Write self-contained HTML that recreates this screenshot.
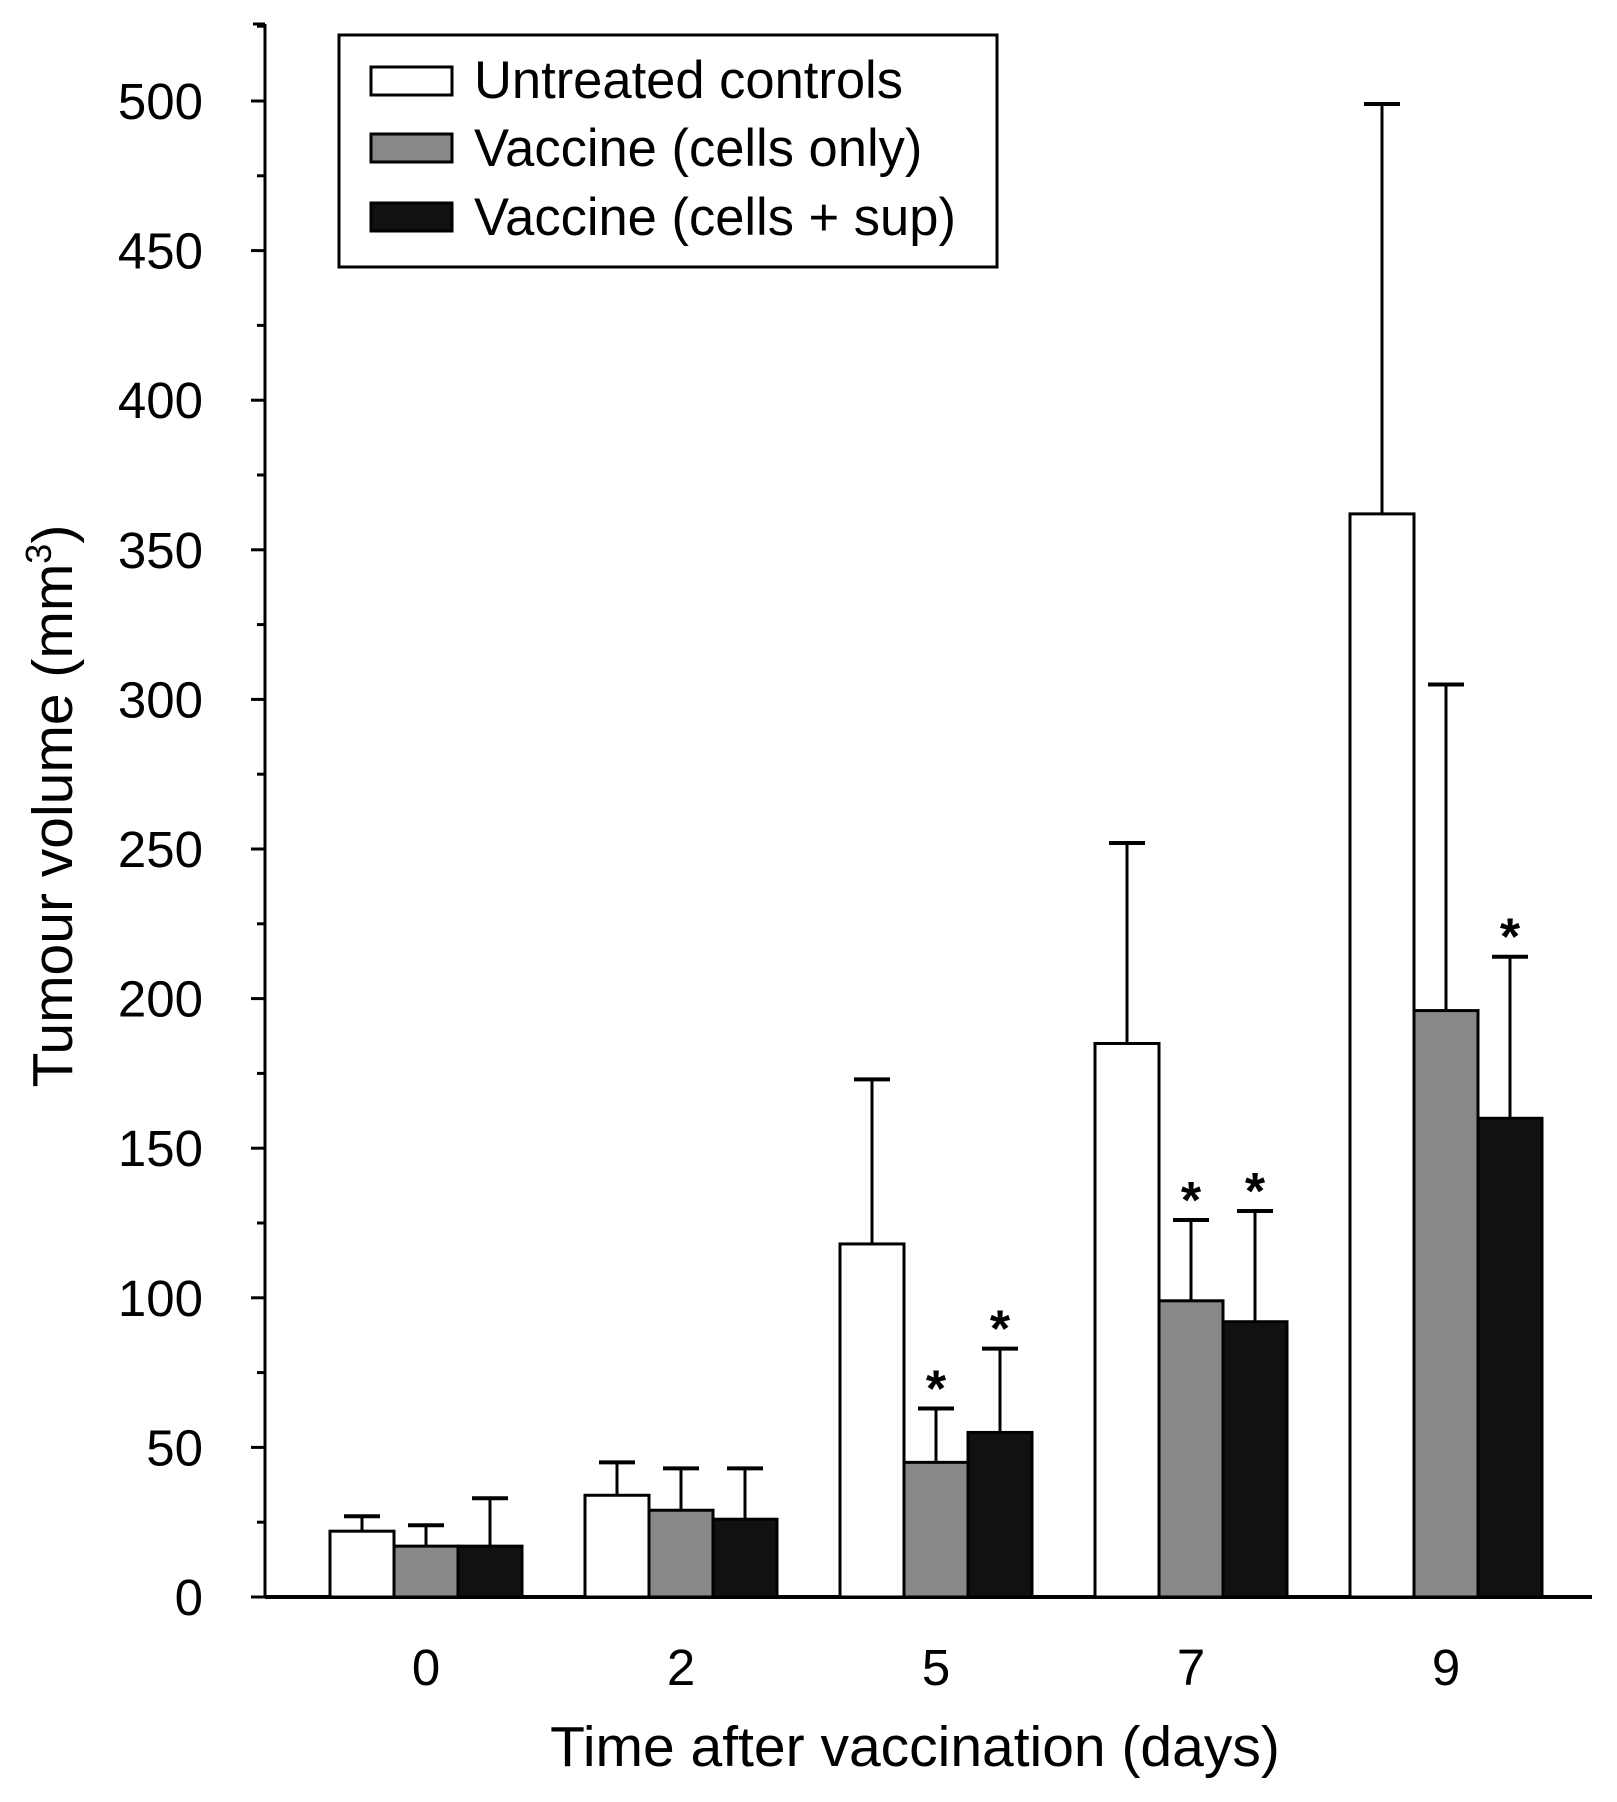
<!DOCTYPE html>
<html><head><meta charset="utf-8"><style>
body{margin:0;background:#fff}
svg{display:block;font-family:"Liberation Sans",Arial,sans-serif}
</style></head><body>
<svg id="chart" width="1617" height="1802" viewBox="0 0 1617 1802">
<g id="axes"></g><g id="bars"></g>
<g>
<rect x="339" y="35" width="658" height="232" fill="#fff" stroke="#000" stroke-width="3"/>
<rect x="371" y="67" width="81" height="28" fill="#fff" stroke="#000" stroke-width="3"/>
<rect x="371" y="134" width="81" height="28" fill="#888" stroke="#000" stroke-width="3"/>
<rect x="371" y="203" width="81" height="28" fill="#111" stroke="#000" stroke-width="3"/>
<text x="474" y="98" font-size="52.5">Untreated controls</text>
<text x="474" y="166" font-size="52.5">Vaccine (cells only)</text>
<text x="474" y="235" font-size="52.5">Vaccine (cells + sup)</text>
</g>
<text x="915" y="1766" font-size="57" text-anchor="middle">Time after vaccination (days)</text>
<text transform="translate(72,806) rotate(-90)" font-size="57" text-anchor="middle">Tumour volume (mm<tspan font-size="36" dy="-21">3</tspan><tspan dy="21">)</tspan></text>
</svg>
<script>
const categories = ["0","2","5","7","9"];
const untreated = [22,34,118,185,362];
const untreatedErr = [27,45,173,252,499];
const cellsOnly = [17,29,45,99,196];
const cellsOnlyErr = [24,43,63,126,305];
const cellsSup = [17,26,55,92,160];
const cellsSupErr = [33,43,83,129,214];
const stars = [[false,false,false],[false,false,false],[false,true,true],[false,true,true],[false,false,true]];
const yTicks = [0,50,100,150,200,250,300,350,400,450,500];

const NS="http://www.w3.org/2000/svg";
const x0=265, x1=1592, yZero=1597, yTop=24;
const y=v=>yZero-v*(1597-101)/500;
const cx=i=>426+i*255;
const bw=64;
function el(t,a,p){const e=document.createElementNS(NS,t);for(const k in a)e.setAttribute(k,a[k]);p.appendChild(e);return e;}
const ax=document.getElementById('axes'), bars=document.getElementById('bars');
let e=el('line',{x1:x0,y1:yTop,x2:x0,y2:yZero,stroke:'#000','stroke-width':3},ax);


e=el('line',{x1:x0-12,y1:yTop,x2:x0,y2:yTop,stroke:'#000','stroke-width':3},ax);


for(let v=25;v<=525;v+=50){
 e=el('line',{x1:x0-8,y1:y(v),x2:x0,y2:y(v),stroke:'#000','stroke-width':3},ax);
 
 
}
yTicks.forEach(v=>{
 e=el('line',{x1:x0-14,y1:y(v),x2:x0,y2:y(v),stroke:'#000','stroke-width':3},ax);
 
 
 e=el('text',{x:x0-62,y:y(v)+18,'font-size':51,'text-anchor':'end'},ax);
 e.textContent=v;
 
 
});
categories.forEach((c,i)=>{
 e=el('text',{x:cx(i),y:1685,'font-size':51,'text-anchor':'middle'},ax);
 e.textContent=c;
 
 
});
const series=[[untreated,untreatedErr,'#fff','untreated'],[cellsOnly,cellsOnlyErr,'#888','cells-only'],[cellsSup,cellsSupErr,'#111','cells-sup']];
categories.forEach((c,i)=>{
 series.forEach((s,j)=>{
  const bx=cx(i)+(j-1)*bw-bw/2, v=s[0][i], ev=s[1][i], mx=bx+bw/2;
  let r=el('line',{x1:mx,y1:y(v),x2:mx,y2:y(ev),stroke:'#000','stroke-width':3},bars);
  
  
  r=el('line',{x1:mx-18,y1:y(ev),x2:mx+18,y2:y(ev),stroke:'#000','stroke-width':4},bars);
  
  
  r=el('rect',{x:bx,y:y(v),width:bw,height:yZero-y(v),fill:s[2],stroke:'#000','stroke-width':3},bars);
  
  
  if(stars[i][j]){
   r=el('text',{x:mx,y:y(ev)-2,'font-size':52,'font-weight':'bold','text-anchor':'middle'},bars);
   r.textContent='*';
   
   
  }
 });
});
e=el('line',{x1:x0,y1:yZero,x2:x1,y2:yZero,stroke:'#000','stroke-width':4},ax);


</script>
</body></html>
